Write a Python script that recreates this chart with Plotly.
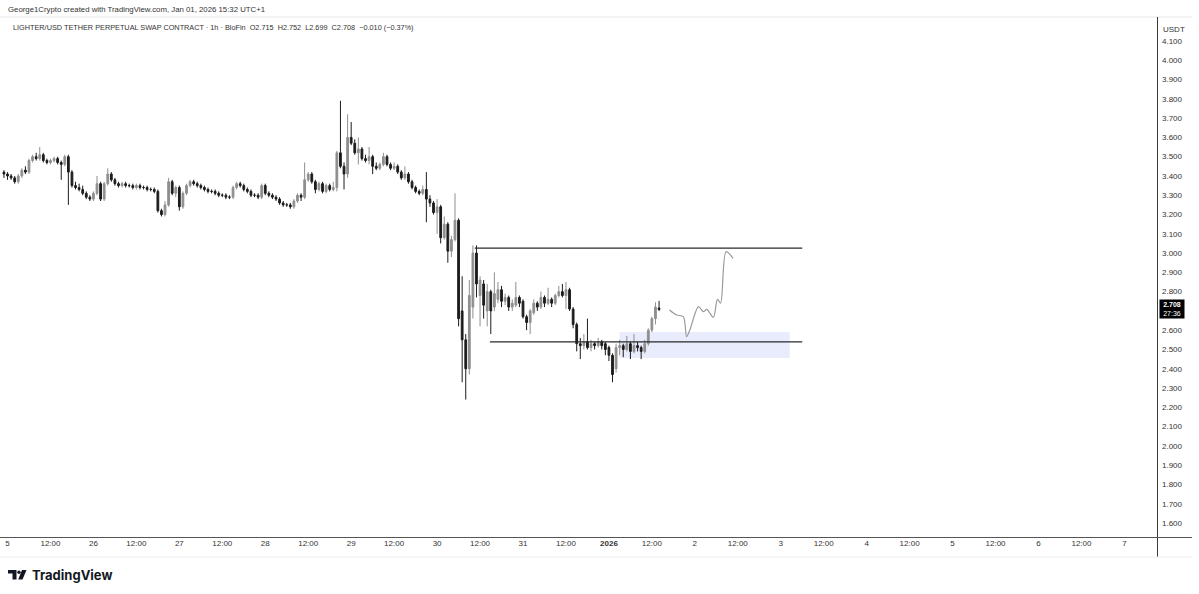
import pandas as pd
import plotly.graph_objects as go

# ---------------- data (hourly candles, LIGHTER/USDT) ----------------
start_time = "2025-12-24 23:00"
opens = [3.42, 3.41, 3.40, 3.39, 3.37, 3.40, 3.43, 3.42, 3.48, 3.50, 3.49, 3.51, 3.48, 3.47, 3.48, 3.49, 3.47, 3.46, 3.50, 3.42,
         3.35, 3.34, 3.33, 3.31, 3.29, 3.28, 3.31, 3.36, 3.28, 3.36, 3.41, 3.38, 3.36, 3.35, 3.36, 3.35, 3.35, 3.34, 3.35, 3.34,
         3.34, 3.33, 3.33, 3.32, 3.22, 3.20, 3.25, 3.37, 3.31, 3.34, 3.24, 3.31, 3.35, 3.37, 3.36, 3.35, 3.34, 3.33, 3.32, 3.32,
         3.31, 3.30, 3.30, 3.29, 3.29, 3.34, 3.36, 3.35, 3.33, 3.32, 3.30, 3.30, 3.29, 3.35, 3.31, 3.30, 3.29, 3.28, 3.26, 3.25,
         3.25, 3.24, 3.27, 3.30, 3.29, 3.38, 3.41, 3.37, 3.33, 3.36, 3.32, 3.35, 3.33, 3.34, 3.52, 3.45, 3.41, 3.60, 3.57, 3.52,
         3.54, 3.49, 3.48, 3.50, 3.45, 3.44, 3.46, 3.50, 3.46, 3.44, 3.45, 3.42, 3.39, 3.41, 3.37, 3.34, 3.32, 3.31, 3.33, 3.28,
         3.26, 3.21, 3.24, 3.08, 3.15, 3.01, 3.07, 3.17, 2.70, 2.55, 2.40, 2.72, 3.00, 2.78, 2.84, 2.70, 2.80, 2.72, 2.76, 2.81,
         2.75, 2.77, 2.72, 2.73, 2.77, 2.75, 2.67, 2.64, 2.69, 2.74, 2.72, 2.77, 2.74, 2.76, 2.74, 2.78, 2.80, 2.78, 2.81, 2.71,
         2.63, 2.53, 2.52, 2.54, 2.51, 2.53, 2.52, 2.54, 2.53, 2.51, 2.47, 2.40, 2.51, 2.52, 2.50, 2.53, 2.49, 2.52, 2.51, 2.49,
         2.53, 2.60, 2.66, 2.715]
highs = [3.43, 3.42, 3.41, 3.40, 3.41, 3.44, 3.45, 3.49, 3.51, 3.52, 3.55, 3.52, 3.49, 3.49, 3.50, 3.50, 3.48, 3.51, 3.51, 3.43,
         3.37, 3.36, 3.35, 3.32, 3.30, 3.32, 3.40, 3.37, 3.37, 3.44, 3.42, 3.39, 3.37, 3.37, 3.37, 3.36, 3.36, 3.36, 3.36, 3.35,
         3.35, 3.34, 3.34, 3.33, 3.23, 3.27, 3.39, 3.38, 3.35, 3.35, 3.32, 3.36, 3.38, 3.38, 3.37, 3.36, 3.35, 3.34, 3.33, 3.33,
         3.32, 3.31, 3.31, 3.30, 3.35, 3.37, 3.37, 3.36, 3.34, 3.33, 3.31, 3.31, 3.36, 3.36, 3.32, 3.31, 3.30, 3.29, 3.27, 3.26,
         3.26, 3.28, 3.31, 3.31, 3.47, 3.42, 3.42, 3.38, 3.37, 3.37, 3.36, 3.36, 3.37, 3.53, 3.79, 3.47, 3.72, 3.68, 3.59, 3.60,
         3.55, 3.51, 3.55, 3.51, 3.47, 3.47, 3.52, 3.51, 3.47, 3.47, 3.46, 3.43, 3.45, 3.42, 3.38, 3.35, 3.33, 3.35, 3.42, 3.30,
         3.27, 3.28, 3.25, 3.19, 3.16, 3.09, 3.31, 3.18, 2.88, 2.58, 2.86, 3.04, 3.04, 2.88, 2.86, 2.84, 2.81, 2.90, 2.85, 2.83,
         2.79, 2.78, 2.76, 2.85, 2.78, 2.76, 2.68, 2.71, 2.76, 2.75, 2.80, 2.78, 2.82, 2.77, 2.79, 2.83, 2.84, 2.85, 2.82, 2.72,
         2.64, 2.56, 2.58, 2.66, 2.55, 2.54, 2.56, 2.55, 2.54, 2.52, 2.48, 2.53, 2.55, 2.53, 2.57, 2.54, 2.58, 2.54, 2.52, 2.55,
         2.61, 2.67, 2.745, 2.752]
lows = [3.39, 3.38, 3.38, 3.36, 3.36, 3.39, 3.41, 3.41, 3.47, 3.48, 3.48, 3.47, 3.46, 3.46, 3.47, 3.46, 3.38, 3.45, 3.25, 3.34,
        3.33, 3.32, 3.30, 3.28, 3.27, 3.27, 3.30, 3.27, 3.27, 3.35, 3.37, 3.35, 3.34, 3.34, 3.34, 3.34, 3.33, 3.33, 3.33, 3.33,
        3.32, 3.32, 3.31, 3.21, 3.19, 3.19, 3.24, 3.30, 3.29, 3.22, 3.23, 3.30, 3.34, 3.35, 3.34, 3.33, 3.32, 3.31, 3.31, 3.30,
        3.29, 3.29, 3.28, 3.28, 3.28, 3.33, 3.34, 3.32, 3.31, 3.29, 3.29, 3.28, 3.28, 3.30, 3.29, 3.28, 3.27, 3.25, 3.24, 3.24,
        3.23, 3.23, 3.26, 3.27, 3.28, 3.37, 3.36, 3.31, 3.32, 3.31, 3.31, 3.32, 3.32, 3.32, 3.44, 3.33, 3.39, 3.56, 3.51, 3.46,
        3.48, 3.47, 3.46, 3.41, 3.43, 3.43, 3.45, 3.45, 3.43, 3.43, 3.41, 3.38, 3.38, 3.36, 3.33, 3.31, 3.30, 3.30, 3.16, 3.24,
        3.20, 3.10, 3.05, 3.07, 2.95, 2.98, 3.06, 2.62, 2.33, 2.24, 2.37, 2.66, 2.77, 2.62, 2.66, 2.62, 2.58, 2.70, 2.74, 2.72,
        2.73, 2.70, 2.70, 2.72, 2.72, 2.66, 2.60, 2.58, 2.68, 2.70, 2.71, 2.72, 2.73, 2.72, 2.73, 2.77, 2.77, 2.71, 2.70, 2.61,
        2.49, 2.45, 2.50, 2.50, 2.49, 2.50, 2.51, 2.50, 2.47, 2.44, 2.33, 2.38, 2.47, 2.46, 2.49, 2.45, 2.48, 2.49, 2.45, 2.48,
        2.52, 2.59, 2.63, 2.699]
closes = [3.41, 3.40, 3.39, 3.37, 3.40, 3.43, 3.42, 3.48, 3.50, 3.49, 3.51, 3.48, 3.47, 3.48, 3.49, 3.47, 3.46, 3.50, 3.42, 3.35,
          3.34, 3.33, 3.31, 3.29, 3.28, 3.31, 3.36, 3.28, 3.36, 3.41, 3.38, 3.36, 3.35, 3.36, 3.35, 3.35, 3.34, 3.35, 3.34, 3.34,
          3.33, 3.33, 3.32, 3.22, 3.20, 3.25, 3.37, 3.31, 3.34, 3.24, 3.31, 3.35, 3.37, 3.36, 3.35, 3.34, 3.33, 3.32, 3.32, 3.31,
          3.30, 3.30, 3.29, 3.29, 3.34, 3.36, 3.35, 3.33, 3.32, 3.30, 3.30, 3.29, 3.35, 3.31, 3.30, 3.29, 3.28, 3.26, 3.25, 3.25,
          3.24, 3.27, 3.30, 3.29, 3.38, 3.41, 3.37, 3.33, 3.36, 3.32, 3.35, 3.33, 3.34, 3.52, 3.45, 3.41, 3.60, 3.57, 3.52, 3.54,
          3.49, 3.48, 3.50, 3.45, 3.44, 3.46, 3.50, 3.46, 3.44, 3.45, 3.42, 3.39, 3.41, 3.37, 3.34, 3.32, 3.31, 3.33, 3.28, 3.26,
          3.21, 3.24, 3.08, 3.15, 3.01, 3.07, 3.17, 2.66, 2.55, 2.40, 2.78, 3.00, 2.84, 2.86, 2.73, 2.80, 2.70, 2.79, 2.81, 2.75,
          2.77, 2.72, 2.74, 2.77, 2.74, 2.67, 2.64, 2.70, 2.74, 2.72, 2.77, 2.74, 2.76, 2.74, 2.78, 2.80, 2.78, 2.81, 2.71, 2.63,
          2.53, 2.52, 2.54, 2.51, 2.53, 2.52, 2.54, 2.52, 2.50, 2.47, 2.37, 2.51, 2.52, 2.50, 2.53, 2.49, 2.52, 2.51, 2.49, 2.53,
          2.60, 2.66, 2.72, 2.708]

# drawn projection path (user drawing)
proj_times = ["2026-01-01 16:54", "2026-01-01 18:54", "2026-01-01 20:48", "2026-01-01 21:42", "2026-01-01 22:36",
              "2026-01-02 01:00", "2026-01-02 02:24", "2026-01-02 03:18", "2026-01-02 05:12", "2026-01-02 06:18",
              "2026-01-02 07:12", "2026-01-02 08:42", "2026-01-02 10:42"]
proj_prices = [2.705, 2.679, 2.670, 2.566, 2.601, 2.722, 2.696, 2.708, 2.667, 2.760, 2.740, 3.007, 2.973]

# range box levels and demand zone
range_top = 3.026
range_bottom = 2.539
zone_low, zone_high = 2.456, 2.591

# axis ticks
x_tick_vals = pd.date_range("2025-12-25 00:00", "2026-01-07 00:00", freq="12h")
x_tick_text = ["5", "12:00", "26", "12:00", "27", "12:00", "28", "12:00", "29", "12:00", "30", "12:00",
               "31", "12:00", "<b>2026</b>", "12:00", "2", "12:00", "3", "12:00", "4", "12:00", "5", "12:00",
               "6", "12:00", "7"]
# price scale labels (2.700 is hidden behind the last-price tag)
y_tick_vals = [1.6, 1.7, 1.8, 1.9, 2.0, 2.1, 2.2, 2.3, 2.4, 2.5, 2.6, 2.8, 2.9,
               3.0, 3.1, 3.2, 3.3, 3.4, 3.5, 3.6, 3.7, 3.8, 3.9, 4.0, 4.1]

times = pd.date_range(start_time, periods=len(closes), freq="1h")

# ---------------- figure ----------------
W, H = 1199, 594
PX0, PX1, PY0, PY1 = 0, 1157, 18, 537


def pxx(px):
    return (px - PX0) / (PX1 - PX0)


def pxy(py):
    return (PY1 - py) / (PY1 - PY0)


fig = go.Figure()

fig.add_trace(go.Candlestick(
    x=times, open=opens, high=highs, low=lows, close=closes,
    increasing=dict(line=dict(color="#8f8f8f", width=1), fillcolor="#8f8f8f"),
    decreasing=dict(line=dict(color="#1c1c1c", width=1), fillcolor="#1c1c1c"),
    whiskerwidth=0, showlegend=False, hoverinfo="skip",
))

fig.add_trace(go.Scatter(
    x=proj_times, y=proj_prices, mode="lines",
    line=dict(color="#9a9a9a", width=1.2, shape="spline", smoothing=0.8),
    showlegend=False, hoverinfo="skip",
))

shapes = []
# demand zone
shapes.append(dict(type="rect", xref="x", yref="y", x0="2026-01-01 03:00", x1="2026-01-03 02:30",
                   y0=zone_low, y1=zone_high, fillcolor="rgba(125,145,235,0.17)", line=dict(width=0), layer="below"))
# range lines
shapes.append(dict(type="line", xref="x", yref="y", x0="2025-12-30 10:30", x1="2026-01-03 06:00",
                   y0=range_top, y1=range_top, line=dict(color="#2a2a2a", width=1.3)))
shapes.append(dict(type="line", xref="x", yref="y", x0="2025-12-30 14:45", x1="2026-01-03 06:00",
                   y0=range_bottom, y1=range_bottom, line=dict(color="#2a2a2a", width=1.3)))
# frame lines
shapes.append(dict(type="line", xref="paper", yref="paper", x0=pxx(0), x1=pxx(1192), y0=pxy(17), y1=pxy(17),
                   line=dict(color="#e6e6e6", width=1)))
shapes.append(dict(type="line", xref="paper", yref="paper", x0=pxx(1157.5), x1=pxx(1157.5), y0=pxy(17), y1=pxy(557),
                   line=dict(color="#3a3a3a", width=1)))
shapes.append(dict(type="line", xref="paper", yref="paper", x0=pxx(0), x1=pxx(1192), y0=pxy(537.5), y1=pxy(537.5),
                   line=dict(color="#555555", width=1)))
shapes.append(dict(type="line", xref="paper", yref="paper", x0=pxx(0), x1=pxx(1192), y0=pxy(557), y1=pxy(557),
                   line=dict(color="#eeeeee", width=1)))
# TradingView logo icon
shapes.append(dict(type="path", xref="paper", yref="paper",
                   path="M {} {} L {} {} L {} {} L {} {} L {} {} L {} {} Z".format(
                       pxx(8), pxy(570), pxx(16.5), pxy(570), pxx(16.5), pxy(579.5), pxx(12.5), pxy(579.5),
                       pxx(12.5), pxy(573.5), pxx(8), pxy(573.5)),
                   fillcolor="#131722", line=dict(width=0)))
shapes.append(dict(type="circle", xref="paper", yref="paper", x0=pxx(17.3), x1=pxx(20.7), y0=pxy(574), y1=pxy(570.6),
                   fillcolor="#131722", line=dict(width=0)))
shapes.append(dict(type="path", xref="paper", yref="paper",
                   path="M {} {} L {} {} L {} {} L {} {} Z".format(
                       pxx(22), pxy(570), pxx(26.5), pxy(570), pxx(22.5), pxy(579.5), pxx(18.2), pxy(579.5)),
                   fillcolor="#131722", line=dict(width=0)))

annotations = [
    dict(xref="paper", yref="paper", x=pxx(6), y=pxy(9), xanchor="left", yanchor="middle", showarrow=False,
         text="George1Crypto created with TradingView.com, Jan 01, 2026 15:32 UTC+1",
         font=dict(family="Liberation Sans, Arial", size=7.8, color="#333333")),
    dict(xref="paper", yref="paper", x=pxx(11), y=pxy(27), xanchor="left", yanchor="middle", showarrow=False,
         text="LIGHTER/USD TETHER PERPETUAL SWAP CONTRACT · 1h · BloFin  O2.715  H2.752  L2.699  C2.708  −0.010 (−0.37%)",
         font=dict(family="Liberation Sans, Arial", size=7.3, color="#333333")),
    dict(xref="paper", yref="paper", x=pxx(1174), y=pxy(30), xanchor="center", yanchor="middle", showarrow=False,
         text="USDT", font=dict(family="Liberation Sans, Arial", size=8, color="#333333")),
    dict(xref="paper", yref="y", x=pxx(1172), y=2.708, xanchor="center", yanchor="middle", showarrow=False,
         text="<b>2.708</b><br>27:36", bgcolor="#000000", borderpad=1, width=22,
         font=dict(family="Liberation Sans, Arial", size=7, color="#ffffff")),
    dict(xref="paper", yref="paper", x=pxx(30), y=pxy(575), xanchor="left", yanchor="middle", showarrow=False,
         text="<b>TradingView</b>", font=dict(family="Inter, Roboto, Arial", size=13, color="#131722")),
]

fig.update_layout(
    width=W, height=H,
    margin=dict(l=PX0, r=W - PX1, t=PY0, b=H - PY1),
    paper_bgcolor="white", plot_bgcolor="white",
    shapes=shapes, annotations=annotations,
    xaxis=dict(
        type="date", range=["2025-12-24 21:54", "2026-01-07 09:06"],
        rangeslider=dict(visible=False), showgrid=False, zeroline=False, showline=False,
        tickmode="array", tickvals=list(x_tick_vals), ticktext=x_tick_text, ticks="",
        tickfont=dict(family="Liberation Sans, Arial", size=8, color="#333333"),
    ),
    yaxis=dict(
        side="right", range=[1.5274, 4.2193], showgrid=False, zeroline=False, showline=False,
        tickmode="array", tickvals=y_tick_vals, tickformat=".3f", ticks="",
        ticklabelstandoff=4,
        tickfont=dict(family="Liberation Sans, Arial", size=8, color="#333333"),
    ),
)

fig.write_html(
    "out.html",
    config={"displayModeBar": False},
    post_script="document.body.style.margin='0';document.body.style.padding='0';"
                "document.documentElement.style.overflow='hidden';",
)
